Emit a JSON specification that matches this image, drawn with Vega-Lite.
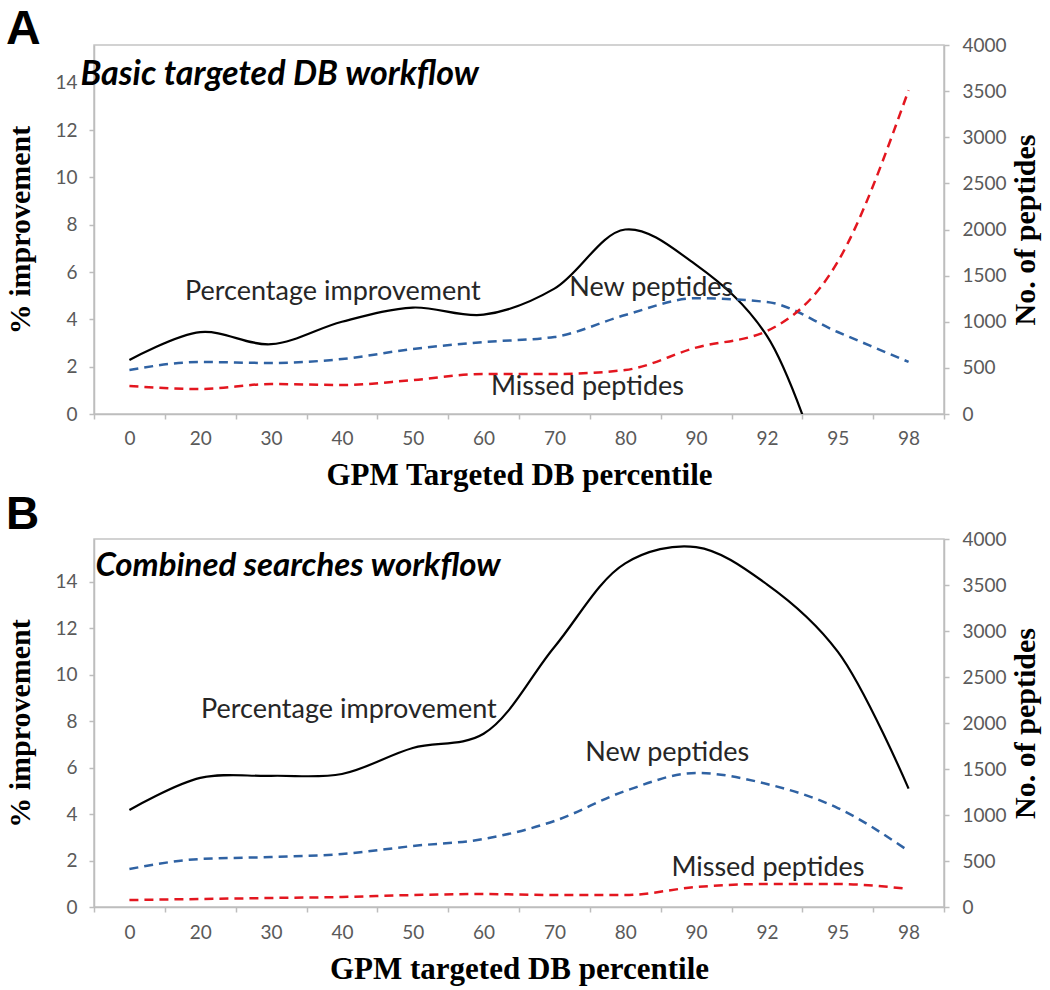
{
  "$schema": "https://vega.github.io/schema/vega-lite/v6.json",
  "padding": {"left": 5, "top": 5, "right": 5, "bottom": 5},
  "background": "white",
  "config": {
    "view": {"stroke": "#c4c4c4", "strokeWidth": 1.5},
    "axis": {"grid": false, "domainColor": "#bdbdbd", "domainWidth": 1.5, "tickColor": "#bdbdbd", "tickWidth": 1.5, "tickSize": 5, "labelFont": "Lato", "labelFontSize": 19, "labelColor": "#5a5a5a", "titleFont": "Liberation Serif", "titleFontWeight": "bold", "titleColor": "#000000"},
    "title": {"color": "#000000"}
  },
  "datasets": {
    "apct": [
      {"p": "0", "v": 2.28}, {"p": "20", "v": 3.46}, {"p": "30", "v": 2.95}, {"p": "40", "v": 3.9},
      {"p": "50", "v": 4.5}, {"p": "60", "v": 4.2}, {"p": "70", "v": 5.3}, {"p": "80", "v": 7.8},
      {"p": "90", "v": 6.3}, {"p": "92", "v": 3.3}, {"p": "95", "v": -4.5}
    ],
    "apep": [
      {"p": "0", "s": "New peptides", "n": 477}, {"p": "20", "s": "New peptides", "n": 564}, {"p": "30", "s": "New peptides", "n": 553},
      {"p": "40", "s": "New peptides", "n": 596}, {"p": "50", "s": "New peptides", "n": 705}, {"p": "60", "s": "New peptides", "n": 780},
      {"p": "70", "s": "New peptides", "n": 835}, {"p": "80", "s": "New peptides", "n": 1073}, {"p": "90", "s": "New peptides", "n": 1255},
      {"p": "92", "s": "New peptides", "n": 1214}, {"p": "95", "s": "New peptides", "n": 889}, {"p": "98", "s": "New peptides", "n": 564},
      {"p": "0", "s": "Missed peptides", "n": 303}, {"p": "20", "s": "Missed peptides", "n": 271}, {"p": "30", "s": "Missed peptides", "n": 325},
      {"p": "40", "s": "Missed peptides", "n": 314}, {"p": "50", "s": "Missed peptides", "n": 368}, {"p": "60", "s": "Missed peptides", "n": 434},
      {"p": "70", "s": "Missed peptides", "n": 434}, {"p": "80", "s": "Missed peptides", "n": 477}, {"p": "90", "s": "Missed peptides", "n": 720},
      {"p": "92", "s": "Missed peptides", "n": 900}, {"p": "95", "s": "Missed peptides", "n": 1650}, {"p": "98", "s": "Missed peptides", "n": 3510}
    ],
    "bpct": [
      {"p": "0", "v": 4.18}, {"p": "20", "v": 5.56}, {"p": "30", "v": 5.65}, {"p": "40", "v": 5.73},
      {"p": "50", "v": 6.85}, {"p": "60", "v": 7.46}, {"p": "70", "v": 11.2}, {"p": "80", "v": 14.8},
      {"p": "90", "v": 15.5}, {"p": "92", "v": 13.9}, {"p": "95", "v": 11.0}, {"p": "98", "v": 5.1}
    ],
    "bpep": [
      {"p": "0", "s": "New peptides", "n": 413}, {"p": "20", "s": "New peptides", "n": 522}, {"p": "30", "s": "New peptides", "n": 543},
      {"p": "40", "s": "New peptides", "n": 576}, {"p": "50", "s": "New peptides", "n": 663}, {"p": "60", "s": "New peptides", "n": 739},
      {"p": "70", "s": "New peptides", "n": 935}, {"p": "80", "s": "New peptides", "n": 1261}, {"p": "90", "s": "New peptides", "n": 1457},
      {"p": "92", "s": "New peptides", "n": 1337}, {"p": "95", "s": "New peptides", "n": 1076}, {"p": "98", "s": "New peptides", "n": 609},
      {"p": "0", "s": "Missed peptides", "n": 76}, {"p": "20", "s": "Missed peptides", "n": 87}, {"p": "30", "s": "Missed peptides", "n": 98},
      {"p": "40", "s": "Missed peptides", "n": 109}, {"p": "50", "s": "Missed peptides", "n": 130}, {"p": "60", "s": "Missed peptides", "n": 141},
      {"p": "70", "s": "Missed peptides", "n": 130}, {"p": "80", "s": "Missed peptides", "n": 130}, {"p": "90", "s": "Missed peptides", "n": 217},
      {"p": "92", "s": "Missed peptides", "n": 250}, {"p": "95", "s": "Missed peptides", "n": 250}, {"p": "98", "s": "Missed peptides", "n": 196}
    ]
  },
  "spacing": 0,
  "vconcat": [
    {
      "width": 850, "height": 369,
      "title": {"text": "A", "anchor": "start", "frame": "bounds", "font": "Liberation Sans", "fontSize": 48, "fontWeight": "bold", "baseline": "alphabetic", "offset": -56},
      "encoding": {
        "x": {"field": "p", "type": "ordinal",
          "scale": {"type": "band", "domain": ["0", "20", "30", "40", "50", "60", "70", "80", "90", "92", "95", "98"], "paddingInner": 0, "paddingOuter": 0},
          "axis": {"title": "GPM Targeted DB percentile", "titleFontSize": 31, "labelAngle": 0, "tickBand": "extent", "labelPadding": 10, "titlePadding": 12}}
      },
      "layer": [
        {
          "encoding": {
            "y": {"field": "v", "type": "quantitative", "scale": {"domain": [0, 15.6], "nice": false, "zero": false},
              "axis": {"title": "% improvement", "values": [0, 2, 4, 6, 8, 10, 12, 14], "titleFontSize": 30, "labelPadding": 12, "titlePadding": 19}}
          },
          "layer": [
            {
              "data": {"name": "apct"},
              "mark": {"type": "line", "color": "#000000", "strokeWidth": 2.2, "interpolate": "catmull-rom", "clip": true}
            },
            {
              "data": {"values": [{"p": "40", "v": 5.15, "label": "Percentage improvement"}]},
              "mark": {"type": "text", "font": "Lato", "fontSize": 27, "color": "#262626", "dx": -9, "baseline": "middle"},
              "encoding": {"text": {"field": "label"}}
            },
            {
              "data": {"values": [{"p": "0", "v": 13.9, "label": "Basic targeted DB workflow"}]},
              "mark": {"type": "text", "font": "Lato", "fontSize": 34, "fontWeight": "bold", "fontStyle": "italic", "color": "#000000", "align": "left", "baseline": "alphabetic", "dx": -49},
              "encoding": {"text": {"field": "label"}}
            }
          ]
        },
        {
          "encoding": {
            "y": {"field": "n", "type": "quantitative", "scale": {"domain": [0, 4000], "nice": false},
              "axis": {"orient": "right", "title": "No. of peptides", "format": "d", "values": [0, 500, 1000, 1500, 2000, 2500, 3000, 3500, 4000], "titleFontSize": 30, "titleAngle": -90, "titleBaseline": "top", "labelPadding": 13, "titlePadding": 4}}
          },
          "layer": [
            {
              "data": {"name": "apep"},
              "mark": {"type": "line", "strokeWidth": 2.5, "strokeDash": [9, 6], "interpolate": "monotone"},
              "encoding": {
                "color": {"field": "s", "type": "nominal", "scale": {"domain": ["New peptides", "Missed peptides"], "range": ["#2f62a3", "#e3161f"]}, "legend": null}
              }
            },
            {
              "data": {"values": [{"p": "80", "n": 1366, "label": "New peptides"}]},
              "mark": {"type": "text", "font": "Lato", "fontSize": 27, "color": "#262626", "dx": 26, "baseline": "middle"},
              "encoding": {"text": {"field": "label"}}
            },
            {
              "data": {"values": [{"p": "70", "n": 293, "label": "Missed peptides"}]},
              "mark": {"type": "text", "font": "Lato", "fontSize": 27, "color": "#262626", "dx": 33, "baseline": "middle"},
              "encoding": {"text": {"field": "label"}}
            }
          ]
        }
      ],
      "resolve": {"scale": {"y": "independent"}}
    },
    {
      "width": 850, "height": 368,
      "title": {"text": "B", "anchor": "start", "frame": "bounds", "font": "Liberation Sans", "fontSize": 46, "fontWeight": "bold", "baseline": "alphabetic", "offset": -45},
      "encoding": {
        "x": {"field": "p", "type": "ordinal",
          "scale": {"type": "band", "domain": ["0", "20", "30", "40", "50", "60", "70", "80", "90", "92", "95", "98"], "paddingInner": 0, "paddingOuter": 0},
          "axis": {"title": "GPM targeted DB percentile", "titleFontSize": 31, "labelAngle": 0, "tickBand": "extent", "labelPadding": 11, "titlePadding": 12}}
      },
      "layer": [
        {
          "encoding": {
            "y": {"field": "v", "type": "quantitative", "scale": {"domain": [0, 15.85], "nice": false, "zero": false},
              "axis": {"title": "% improvement", "values": [0, 2, 4, 6, 8, 10, 12, 14], "titleFontSize": 30, "labelPadding": 12, "titlePadding": 19}}
          },
          "layer": [
            {
              "data": {"name": "bpct"},
              "mark": {"type": "line", "color": "#000000", "strokeWidth": 2.2, "interpolate": "catmull-rom", "clip": true}
            },
            {
              "data": {"values": [{"p": "40", "v": 8.5, "label": "Percentage improvement"}]},
              "mark": {"type": "text", "font": "Lato", "fontSize": 27, "color": "#262626", "dx": 7, "baseline": "middle"},
              "encoding": {"text": {"field": "label"}}
            },
            {
              "data": {"values": [{"p": "0", "v": 14.27, "label": "Combined searches workflow"}]},
              "mark": {"type": "text", "font": "Lato", "fontSize": 33, "fontWeight": "bold", "fontStyle": "italic", "color": "#000000", "align": "left", "baseline": "alphabetic", "dx": -34},
              "encoding": {"text": {"field": "label"}}
            }
          ]
        },
        {
          "encoding": {
            "y": {"field": "n", "type": "quantitative", "scale": {"domain": [0, 4000], "nice": false},
              "axis": {"orient": "right", "title": "No. of peptides", "format": "d", "values": [0, 500, 1000, 1500, 2000, 2500, 3000, 3500, 4000], "titleFontSize": 30, "titleAngle": -90, "titleBaseline": "top", "labelPadding": 13, "titlePadding": 4}}
          },
          "layer": [
            {
              "data": {"name": "bpep"},
              "mark": {"type": "line", "strokeWidth": 2.5, "strokeDash": [9, 6], "interpolate": "monotone"},
              "encoding": {
                "color": {"field": "s", "type": "nominal", "scale": {"domain": ["New peptides", "Missed peptides"], "range": ["#2f62a3", "#e3161f"]}, "legend": null}
              }
            },
            {
              "data": {"values": [{"p": "80", "n": 1674, "label": "New peptides"}]},
              "mark": {"type": "text", "font": "Lato", "fontSize": 27, "color": "#262626", "dx": 42, "baseline": "middle"},
              "encoding": {"text": {"field": "label"}}
            },
            {
              "data": {"values": [{"p": "92", "n": 424, "label": "Missed peptides"}]},
              "mark": {"type": "text", "font": "Lato", "fontSize": 27, "color": "#262626", "dx": 1, "baseline": "middle"},
              "encoding": {"text": {"field": "label"}}
            }
          ]
        }
      ],
      "resolve": {"scale": {"y": "independent"}}
    }
  ]
}
